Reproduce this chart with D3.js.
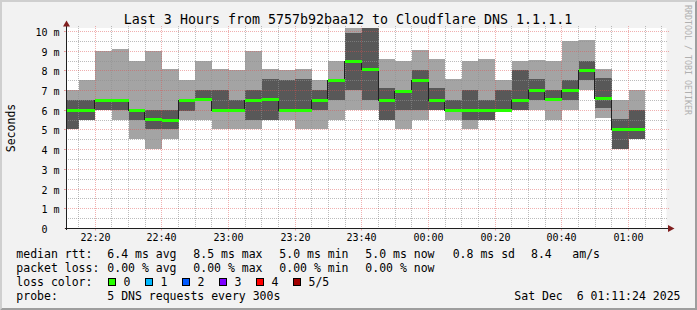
<!DOCTYPE html>
<html><head><meta charset="utf-8">
<script src="https://cdn.jsdelivr.net/npm/d3@7"></script>
<style>
html,body{margin:0;padding:0;background:#f2f2f2;}
svg{display:block;}
text{font-family:"DejaVu Sans Mono",monospace;fill:#000;}
</style></head><body>
<svg id="c" width="697" height="310"></svg>
<script>
// ---- data (ms) ----
const times = ["22:10","22:15","22:20","22:25","22:30","22:35","22:40","22:45","22:50","22:55",
  "23:00","23:05","23:10","23:15","23:20","23:25","23:30","23:35","23:40","23:45",
  "23:50","23:55","00:00","00:05","00:10","00:15","00:20","00:25","00:30","00:35",
  "00:40","00:45","00:50","00:55","01:00"];
const pingMin = [5.0,5.5,6.0,5.5,4.5,4.0,4.5,5.5,5.5,5.0, 5.0,5.0,5.5,5.5,5.0,5.0,5.5,6.0,6.0,5.5,
  5.0,5.5,6.0,5.5,5.0,5.5,6.0,6.0,6.0,5.5, 6.0,7.0,5.6,4.0,4.5];
const ping2 = [5.0,5.5,6.0,6.0,5.5,5.0,5.0,5.95,6.55,6.0, 6.0,5.5,5.5,6.0,6.0,6.0,6.5,7.0,6.5,5.5,
  6.0,6.0,6.0,6.0,5.5,5.5,6.0,6.0,6.5,6.5, 6.5,7.5,6.1,4.0,4.5];
const pingMedian = [6.0,6.0,6.5,6.5,6.0,5.55,5.5,6.5,6.55,6.0, 6.0,6.5,6.55,6.0,6.0,6.5,7.5,8.5,8.05,6.5,
  6.95,7.5,6.5,6.0,6.0,6.0,6.0,6.5,7.0,6.55, 7.0,8.0,6.6,5.0,5.0];
const ping4 = [6.5,6.5,6.5,6.5,6.0,6.0,6.0,6.5,7.0,7.0, 6.5,7.0,7.55,7.5,7.55,7.0,7.5,9.88,10.6,7.1,
  7.0,8.0,7.1,6.5,7.0,6.5,7.0,8.0,7.55,7.0, 7.5,8.5,7.6,5.55,6.0];
const pingMax = [7.0,7.5,9.0,9.1,8.5,9.0,8.05,7.5,8.5,8.05, 8.0,9.0,8.05,8.0,8.05,7.5,8.5,10.6,10.6,8.6,
  8.5,9.05,8.6,7.55,8.45,8.6,7.5,8.5,8.55,8.5, 9.5,9.55,8.05,6.5,7.0];
const rangeStart = "22:11:24", rangeEnd = "01:11:24";
const yTicks = [0,1,2,3,4,5,6,7,8,9,10];
const yTickLabels = ["0","1 m","2 m","3 m","4 m","5 m","6 m","7 m","8 m","9 m","10 m"];
const xTickLabels = ["22:20","22:40","23:00","23:20","23:40","00:00","00:20","00:40","01:00"];
const lossLabels = ["0","1","2","3","4","5/5"];
const lossColors = ["#26ff00","#00b8ff","#0059ff","#7e00ff","#ff0000","#a10000"];
const rttStats = ["6.4 ms avg","8.5 ms max","5.0 ms min","5.0 ms now","0.8 ms sd","8.4","am/s"];
const lossStats = ["0.00 % avg","0.00 % max","0.00 % min","0.00 % now"];
const title = "Last 3 Hours from 5757b92baa12 to Cloudflare DNS 1.1.1.1";
const probeText = "5 DNS requests every 300s";
const stampText = "Sat Dec  6 01:11:24 2025";

// ---- helpers ----
function tt(s){const p=s.split(":").map(Number);const day=p[0]<12?6:5;return new Date(2025,11,day,p[0],p[1],p[2]||0);}
const svg = d3.select("#c");
const L=66.5, R=666.5, T=28, B=228;
const x = d3.scaleTime().domain([tt(rangeStart), tt(rangeEnd)]).range([L, R]);
const y = d3.scaleLinear().domain([0, 10.15]).range([B, T]);
const ry = v => Math.round(y(v));          // pixel row
const rx = t => Math.floor(x(t));          // pixel column
const minorC="rgba(143,143,143,0.6)", majorC="rgba(222,79,79,0.45)";

// dotted patterns (1 on / 1 off, pixel exact)
const defs = svg.append("defs");
function pat(id,w,h,col){const p=defs.append("pattern").attr("id",id).attr("patternUnits","userSpaceOnUse").attr("width",w).attr("height",h);
  p.append("rect").attr("width",1).attr("height",1).attr("fill",col).attr("shape-rendering","crispEdges");}
pat("hMin",2,1,minorC); pat("hMaj",2,1,majorC); pat("vMin",1,2,minorC); pat("vMaj",1,2,majorC);

// background & shading
svg.append("rect").attr("width",697).attr("height",310).attr("fill","#f2f2f2");
svg.append("path").attr("d","M0,0H697L695,2H2V308L0,310Z").attr("fill","#cfcfcf");
svg.append("path").attr("d","M697,0V310H0L2,308H695V2Z").attr("fill","#9e9e9e");
svg.append("rect").attr("x",L).attr("y",T).attr("width",R-L).attr("height",B-T).attr("fill","#fff");

// clip
svg.append("clipPath").attr("id","pc").append("rect").attr("x",67).attr("y",T).attr("width",600).attr("height",B-T);
const g = svg.append("g").attr("clip-path","url(#pc)").attr("shape-rendering","crispEdges");

const bars = times.map((s,i)=>({t0:tt(s), t1:d3.timeMinute.offset(tt(s),5), mn:pingMin[i], p2:ping2[i], md:pingMedian[i], p4:ping4[i], mx:pingMax[i]}));
const bx0 = d=>Math.round(x(d.t0)), bx1 = d=>Math.round(x(d.t1));
g.selectAll("rect.l").data(bars).join("rect").attr("class","l")
  .attr("x",bx0).attr("width",d=>bx1(d)-bx0(d))
  .attr("y",d=>ry(d.mx)).attr("height",d=>ry(d.mn)-ry(d.mx))
  .attr("fill","#a4a4a4");
g.selectAll("rect.d").data(bars).join("rect").attr("class","d")
  .attr("x",bx0).attr("width",d=>bx1(d)-bx0(d))
  .attr("y",d=>ry(d.p4)).attr("height",d=>ry(d.p2)-ry(d.p4))
  .attr("fill","#585858");

// grid
const grid = svg.append("g").attr("shape-rendering","crispEdges");
const t5 = d3.timeMinute.every(5).range(x.domain()[0], x.domain()[1]);
grid.selectAll("rect.vg").data(t5).join("rect").attr("class","vg")
  .attr("x",rx).attr("width",1).attr("y",T-2).attr("height",B-T+1)
  .attr("fill",t=>t.getMinutes()%20===0?"url(#vMaj)":"url(#vMin)");
const yHalf = d3.range(1,21).map(k=>k*0.5).filter(v=>v<10.15);
grid.selectAll("rect.hg").data(yHalf).join("rect").attr("class","hg")
  .attr("x",v=>Number.isInteger(v)?64:65).attr("width",v=>Number.isInteger(v)?605:603)
  .attr("y",ry).attr("height",1)
  .attr("fill",v=>Number.isInteger(v)?"url(#hMaj)":"url(#hMin)");

// median dark step line + loss-colour median band (on top)
const g2 = svg.append("g").attr("clip-path","url(#pc)").attr("shape-rendering","crispEdges");
const medLine = d3.line().curve(d3.curveStepAfter);
const mpts=[]; bars.forEach(d=>{mpts.push([bx0(d)-0.5, ry(d.md)+0.5]);});
mpts.push([bx1(bars[bars.length-1])-0.5, ry(bars[bars.length-1].md)+0.5]);
g2.append("path").attr("d",medLine(mpts)).attr("fill","none").attr("stroke","#202020").attr("stroke-width",1);
g2.selectAll("rect.m").data(bars).join("rect").attr("class","m")
  .attr("x",bx0).attr("width",d=>bx1(d)-bx0(d))
  .attr("y",d=>ry(d.md)-1).attr("height",3)
  .attr("fill",lossColors[0]);

// axes via d3
const xAxis = d3.axisBottom(x).tickValues(xTickLabels.map(tt)).tickFormat((d,i)=>xTickLabels[i]).tickSizeInner(2).tickSizeOuter(0);
const xa = svg.append("g").attr("transform",`translate(0,${B+0.5})`).call(xAxis);
xa.select(".domain").remove();
xa.selectAll(".tick").attr("transform",d=>`translate(${rx(d)+0.5},0)`);
xa.selectAll(".tick line").attr("stroke",majorC);
xa.selectAll(".tick text").attr("y",12.5).attr("dy",0).attr("font-size","10px").attr("font-family","DejaVu Sans Mono").attr("fill","#000");

const yAxis = d3.axisLeft(y).tickValues(yTicks).tickFormat((d,i)=>yTickLabels[i].length===1?yTickLabels[i]+"\u00a0\u00a0":yTickLabels[i]).tickSizeInner(2).tickSizeOuter(0).tickPadding(5);
const ya = svg.append("g").attr("transform",`translate(${L},0)`).call(yAxis);
ya.select(".domain").remove();
ya.selectAll(".tick").attr("transform",d=>`translate(0,${ry(d)+0.5})`);
ya.selectAll(".tick line").attr("stroke",majorC);
ya.selectAll(".tick text").attr("dy",0).attr("y",4).attr("font-size","10px").attr("font-family","DejaVu Sans Mono").attr("fill","#000");

// axis lines & arrows
svg.append("line").attr("x1",L).attr("x2",L).attr("y1",B+2).attr("y2",24).attr("stroke","#1f1f1f").attr("shape-rendering","crispEdges");
svg.append("line").attr("x1",L-2).attr("x2",670).attr("y1",B+0.5).attr("y2",B+0.5).attr("stroke","#1f1f1f").attr("shape-rendering","crispEdges");
svg.append("path").attr("d",`M${L},20.5L${L+3.5},26.5L${L-3.5},26.5Z`).attr("fill","#801f1f");
svg.append("path").attr("d",`M674.5,${B+0.5}L668,${B-3}L668,${B+4}Z`).attr("fill","#801f1f");

// texts
svg.append("text").attr("x",348).attr("y",24.3).attr("text-anchor","middle").attr("font-size","13.3px").text(title);
svg.append("text").attr("transform","translate(15,128) rotate(-90)").attr("text-anchor","middle").attr("font-size","11.5px").text("Seconds");
svg.append("text").attr("transform","translate(685,5) rotate(90)").attr("font-size","8.3px").style("fill","#b0b0b0").text("RRDTOOL / TOBI OETIKER");

const fs="11.5px";
function tx(xp,yp,s){svg.append("text").attr("x",xp).attr("y",yp).attr("font-size",fs).attr("xml:space","preserve").text(s);}
tx(16.3,258.3,"median rtt:");
const rttX=[107.3,193.3,279.3,365.3,452.7,531,572.3];
rttStats.forEach((s,i)=>tx(rttX[i],258.3,s));
tx(16.3,272.2,"packet loss:");
lossStats.forEach((s,i)=>tx(rttX[i],272.2,s));
tx(16.3,286.3,"loss color:");
lossLabels.forEach((s,i)=>{
  const sx=108.5+i*37;
  svg.append("rect").attr("x",sx).attr("y",278.5).attr("width",7).attr("height",7).attr("fill",lossColors[i]).attr("stroke","#000").attr("shape-rendering","crispEdges");
  tx(sx+15,286.3,s);
});
tx(16.3,299.8,"probe:");
tx(107.3,299.8,probeText);
svg.append("text").attr("x",680.5).attr("y",299.8).attr("text-anchor","end").attr("font-size",fs).attr("xml:space","preserve").text(stampText);
</script>
</body></html>
